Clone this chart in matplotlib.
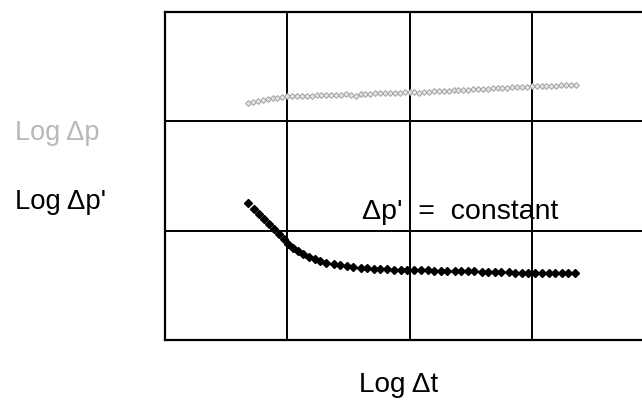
import matplotlib
matplotlib.use("Agg")
import matplotlib.pyplot as plt

plt.rcParams["font.family"] = ["Liberation Sans", "DejaVu Sans"]

# Log-log diagnostic plot: pressure change (grey) and derivative (black)
dp_x = [0.68, 0.72, 0.76, 0.80, 0.84, 0.88, 0.92, 0.96, 1.00, 1.04,
        1.08, 1.12, 1.16, 1.20, 1.24, 1.28, 1.32, 1.36, 1.40, 1.44,
        1.48, 1.52, 1.56, 1.60, 1.64, 1.68, 1.72, 1.76, 1.80, 1.84,
        1.88, 1.92, 1.96, 2.00, 2.04, 2.08, 2.12, 2.16, 2.20, 2.24,
        2.28, 2.32, 2.36, 2.40, 2.44, 2.48, 2.52, 2.56, 2.60, 2.64,
        2.68, 2.72, 2.76, 2.80, 2.84, 2.88, 2.92, 2.96, 3.00, 3.04,
        3.08, 3.12, 3.16, 3.20, 3.24, 3.28, 3.32, 3.36]
dp_y = [2.170, 2.180, 2.190, 2.195, 2.200, 2.210, 2.215, 2.220, 2.228, 2.230,
        2.232, 2.233, 2.235, 2.236, 2.238, 2.240, 2.240, 2.242, 2.243, 2.245,
        2.246, 2.240, 2.236, 2.250, 2.252, 2.254, 2.256, 2.258, 2.258, 2.260,
        2.262, 2.262, 2.264, 2.264, 2.266, 2.262, 2.270, 2.272, 2.275, 2.277,
        2.279, 2.282, 2.284, 2.286, 2.288, 2.291, 2.293, 2.295, 2.297, 2.300,
        2.302, 2.304, 2.306, 2.309, 2.311, 2.313, 2.315, 2.318, 2.320, 2.322,
        2.323, 2.325, 2.326, 2.327, 2.328, 2.330, 2.331, 2.333]

der_x = [0.68, 0.73, 0.77, 0.81, 0.85, 0.89, 0.93, 0.97, 1.01, 1.05,
         1.09, 1.13, 1.18, 1.23, 1.27, 1.32, 1.38, 1.43, 1.49, 1.54,
         1.60, 1.65, 1.71, 1.76, 1.82, 1.87, 1.93, 1.98, 2.04, 2.09,
         2.15, 2.20, 2.26, 2.31, 2.37, 2.42, 2.48, 2.53, 2.59, 2.64,
         2.70, 2.75, 2.81, 2.86, 2.92, 2.97, 3.03, 3.08, 3.14, 3.19,
         3.25, 3.30, 3.35]
der_y = [1.256, 1.196, 1.153, 1.107, 1.061, 1.013, 0.967, 0.921, 0.878, 0.845,
         0.814, 0.787, 0.762, 0.741, 0.723, 0.707, 0.695, 0.683, 0.674, 0.668,
         0.662, 0.656, 0.652, 0.649, 0.646, 0.644, 0.642, 0.640, 0.638, 0.637,
         0.636, 0.635, 0.634, 0.633, 0.632, 0.631, 0.630, 0.629, 0.622, 0.621,
         0.620, 0.618, 0.618, 0.617, 0.617, 0.616, 0.616, 0.615, 0.615, 0.615,
         0.614, 0.614, 0.614]

W, H = 642, 401
fig = plt.figure(figsize=(W / 100, H / 100), dpi=100)
fig.patch.set_facecolor("white")

# plot frame: runs past the right edge of the figure
ax = fig.add_axes([165 / W, 1 - 340 / H, (654 - 165) / W, (340 - 12) / H])
ax.set_xlim(0, 4)
ax.set_ylim(0, 3)
ax.set_xticks([1, 2, 3])
ax.set_yticks([1, 2])
ax.tick_params(length=0, labelbottom=False, labelleft=False)
ax.grid(True, color="black", linewidth=1.4)
for sp in ax.spines.values():
    sp.set_linewidth(1.6)
ax.set_axisbelow(True)

ax.plot(dp_x, dp_y, linestyle="none", marker="D", markersize=3.0,
        markerfacecolor="#e6e6e6", markeredgecolor="#a0a0a0",
        markeredgewidth=0.7, clip_on=False, zorder=3)
ax.plot(der_x, der_y, linestyle="none", marker="D", markersize=4.0,
        markerfacecolor="black", markeredgecolor="black", clip_on=False,
        zorder=4)

ax.text(1.614, 1.17, "Δp'  =  constant", fontsize=20.5, color="black",
        ha="left", va="center", zorder=5)

fig.text(15 / W, 1 - 133 / H, "Log Δp", fontsize=19.5, color="#b8b8b8",
         ha="left", va="center")
fig.text(15 / W, 1 - 202 / H, "Log Δp'", fontsize=19.8, color="black",
         ha="left", va="center")
fig.text(399 / W, 1 - 385 / H, "Log Δt", fontsize=20.2, color="black",
         ha="center", va="center")

fig.savefig("out.png", dpi=100)
